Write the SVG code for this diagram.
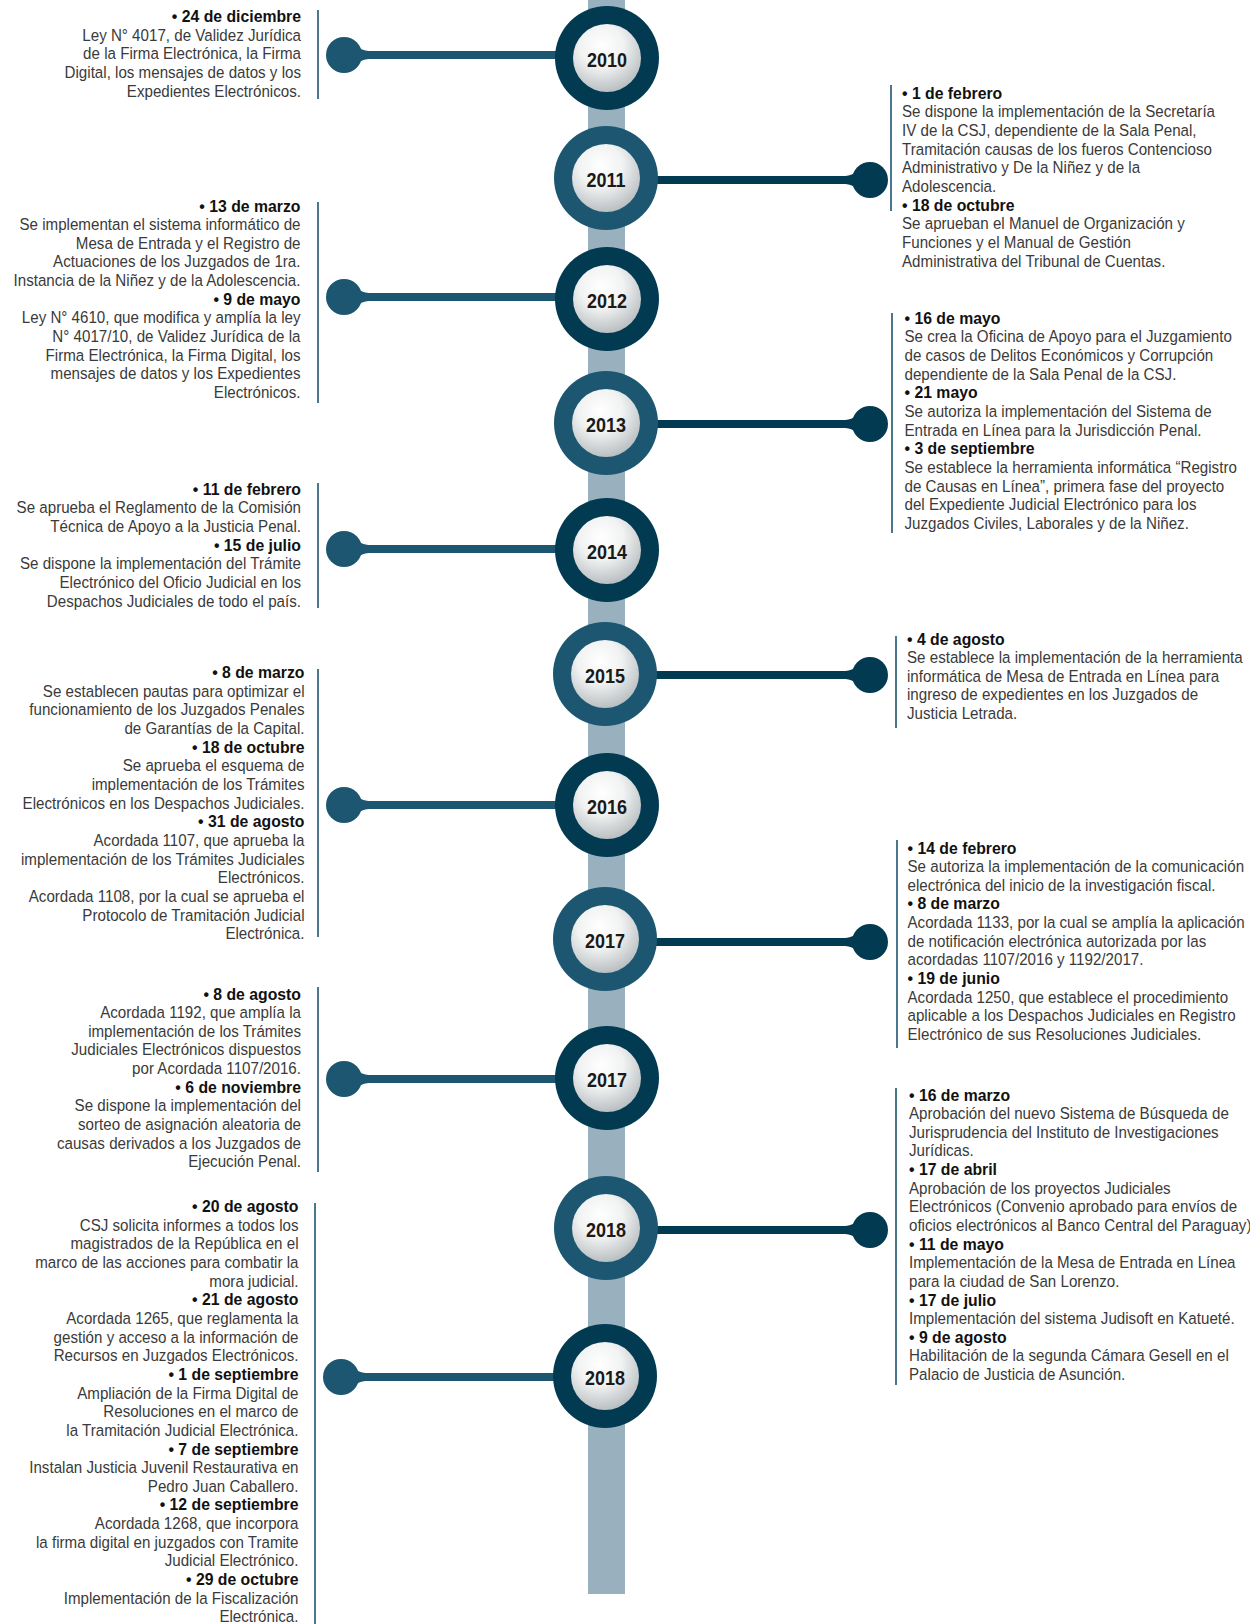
<svg xmlns="http://www.w3.org/2000/svg" xmlns:xlink="http://www.w3.org/1999/xlink" width="1250" height="1624" viewBox="0 0 1250 1624">
<style>
.t{font-family:"Liberation Sans",Arial,sans-serif;font-size:16.5px;fill:#3a3a3a}
.b{font-weight:bold;font-size:17.2px;fill:#111}
.e{text-anchor:end}
.yr{font-family:"Liberation Sans",Arial,sans-serif;font-weight:bold;font-size:19.6px;fill:#1a1a1a;text-anchor:middle}
.dk{fill:#023a51}
.tl{fill:#1c5670}
.vl{stroke:#1e5670;stroke-width:1.6}
.cl{stroke-width:8}
</style>
<defs>
<radialGradient id="disc" cx="0.42" cy="0.32" r="0.72">
<stop offset="0" stop-color="#ffffff"/>
<stop offset="0.45" stop-color="#f1f2f2"/>
<stop offset="1" stop-color="#b4babd"/>
</radialGradient>
<g id="knobL"><circle r="18"/><path d="M9,-15.5 C14,-6 18,-4 28,-4 L28,4 C18,4 14,6 9,15.5 Z"/></g>
<g id="knobR"><circle r="18"/><path d="M-9,-15.5 C-14,-6 -18,-4 -28,-4 L-28,4 C-18,4 -14,6 -9,15.5 Z"/></g>
</defs>
<rect x="0" y="0" width="1250" height="1624" fill="#ffffff"/>
<rect id="bar" x="588" y="0" width="37" height="1594" fill="#99b1be"/>

<g id="connectors">
<line class="cl" x1="350" y1="55" x2="580" y2="55" stroke="#1c5670"/><use xlink:href="#knobL" x="344" y="55" fill="#1c5670"/>
<line class="cl" x1="630" y1="180" x2="865" y2="180" stroke="#023a51"/><use xlink:href="#knobR" x="870" y="180" fill="#023a51"/>
<line class="cl" x1="350" y1="297" x2="580" y2="297" stroke="#1c5670"/><use xlink:href="#knobL" x="344" y="297" fill="#1c5670"/>
<line class="cl" x1="630" y1="424" x2="865" y2="424" stroke="#023a51"/><use xlink:href="#knobR" x="870" y="424" fill="#023a51"/>
<line class="cl" x1="350" y1="549" x2="580" y2="549" stroke="#1c5670"/><use xlink:href="#knobL" x="344" y="549" fill="#1c5670"/>
<line class="cl" x1="630" y1="675" x2="865" y2="675" stroke="#023a51"/><use xlink:href="#knobR" x="870" y="675" fill="#023a51"/>
<line class="cl" x1="350" y1="805" x2="580" y2="805" stroke="#1c5670"/><use xlink:href="#knobL" x="344" y="805" fill="#1c5670"/>
<line class="cl" x1="630" y1="942" x2="865" y2="942" stroke="#023a51"/><use xlink:href="#knobR" x="870" y="942" fill="#023a51"/>
<line class="cl" x1="350" y1="1079" x2="580" y2="1079" stroke="#1c5670"/><use xlink:href="#knobL" x="344" y="1079" fill="#1c5670"/>
<line class="cl" x1="630" y1="1230" x2="865" y2="1230" stroke="#023a51"/><use xlink:href="#knobR" x="870" y="1230" fill="#023a51"/>
<line class="cl" x1="347" y1="1377" x2="580" y2="1377" stroke="#1c5670"/><use xlink:href="#knobL" x="341" y="1377" fill="#1c5670"/>
</g>

<g id="y2010"><circle class="dk" cx="607" cy="58" r="52"/><circle cx="607" cy="58" r="34" fill="url(#disc)"/><text class="yr" transform="translate(607,67) scale(0.918,1)">2010</text></g>
<g id="y2011"><circle class="tl" cx="606" cy="178" r="52"/><circle cx="606" cy="178" r="34" fill="url(#disc)"/><text class="yr" transform="translate(606,187) scale(0.918,1)">2011</text></g>
<g id="y2012"><circle class="dk" cx="607" cy="299" r="52"/><circle cx="607" cy="299" r="34" fill="url(#disc)"/><text class="yr" transform="translate(607,308) scale(0.918,1)">2012</text></g>
<g id="y2013"><circle class="tl" cx="606" cy="423" r="52"/><circle cx="606" cy="423" r="34" fill="url(#disc)"/><text class="yr" transform="translate(606,432) scale(0.918,1)">2013</text></g>
<g id="y2014"><circle class="dk" cx="607" cy="550" r="52"/><circle cx="607" cy="550" r="34" fill="url(#disc)"/><text class="yr" transform="translate(607,559) scale(0.918,1)">2014</text></g>
<g id="y2015"><circle class="tl" cx="605" cy="674" r="52"/><circle cx="605" cy="674" r="34" fill="url(#disc)"/><text class="yr" transform="translate(605,683) scale(0.918,1)">2015</text></g>
<g id="y2016"><circle class="dk" cx="607" cy="805" r="52"/><circle cx="607" cy="805" r="34" fill="url(#disc)"/><text class="yr" transform="translate(607,814) scale(0.918,1)">2016</text></g>
<g id="y2017a"><circle class="tl" cx="605" cy="939" r="52"/><circle cx="605" cy="939" r="34" fill="url(#disc)"/><text class="yr" transform="translate(605,948) scale(0.918,1)">2017</text></g>
<g id="y2017b"><circle class="dk" cx="607" cy="1078" r="52"/><circle cx="607" cy="1078" r="34" fill="url(#disc)"/><text class="yr" transform="translate(607,1087) scale(0.918,1)">2017</text></g>
<g id="y2018a"><circle class="tl" cx="606" cy="1228" r="52"/><circle cx="606" cy="1228" r="34" fill="url(#disc)"/><text class="yr" transform="translate(606,1237) scale(0.918,1)">2018</text></g>
<g id="y2018b"><circle class="dk" cx="605" cy="1376" r="52"/><circle cx="605" cy="1376" r="34" fill="url(#disc)"/><text class="yr" transform="translate(605,1385) scale(0.918,1)">2018</text></g>

<g id="note2010"><line class="vl" x1="318" y1="10" x2="318" y2="99"/>
<text class="t e" transform="translate(301,22.2) scale(0.918,1)"><tspan class="b" x="0" y="0">• 24 de diciembre</tspan><tspan x="0" dy="18.64">Ley N° 4017, de Validez Jurídica</tspan><tspan x="0" dy="18.64">de la Firma Electrónica, la Firma</tspan><tspan x="0" dy="18.64">Digital, los mensajes de datos y los</tspan><tspan x="0" dy="18.64">Expedientes Electrónicos.</tspan></text></g>

<g id="note2011"><line class="vl" x1="891" y1="85" x2="891" y2="211"/>
<text class="t" transform="translate(902,98.8) scale(0.918,1)"><tspan class="b" x="0" y="0">• 1 de febrero</tspan><tspan x="0" dy="18.64">Se dispone la implementación de la Secretaría</tspan><tspan x="0" dy="18.64">IV de la CSJ, dependiente de la Sala Penal,</tspan><tspan x="0" dy="18.64">Tramitación causas de los fueros Contencioso</tspan><tspan x="0" dy="18.64">Administrativo y De la Niñez y de la</tspan><tspan x="0" dy="18.64">Adolescencia.</tspan><tspan class="b" x="0" dy="18.64">• 18 de octubre</tspan><tspan x="0" dy="18.64">Se aprueban el Manuel de Organización y</tspan><tspan x="0" dy="18.64">Funciones y el Manual de Gestión</tspan><tspan x="0" dy="18.64">Administrativa del Tribunal de Cuentas.</tspan></text></g>

<g id="note2012"><line class="vl" x1="318" y1="202" x2="318" y2="403"/>
<text class="t e" transform="translate(300.5,211.5) scale(0.918,1)"><tspan class="b" x="0" y="0">• 13 de marzo</tspan><tspan x="0" dy="18.64">Se implementan el sistema informático de</tspan><tspan x="0" dy="18.64">Mesa de Entrada y el Registro de</tspan><tspan x="0" dy="18.64">Actuaciones de los Juzgados de 1ra.</tspan><tspan x="0" dy="18.64">Instancia de la Niñez y de la Adolescencia.</tspan><tspan class="b" x="0" dy="18.64">• 9 de mayo</tspan><tspan x="0" dy="18.64">Ley N° 4610, que modifica y amplía la ley</tspan><tspan x="0" dy="18.64">N° 4017/10, de Validez Jurídica de la</tspan><tspan x="0" dy="18.64">Firma Electrónica, la Firma Digital, los</tspan><tspan x="0" dy="18.64">mensajes de datos y los Expedientes</tspan><tspan x="0" dy="18.64">Electrónicos.</tspan></text></g>

<g id="note2013"><line class="vl" x1="892" y1="313" x2="892" y2="533"/>
<text class="t" transform="translate(904.5,323.8) scale(0.918,1)"><tspan class="b" x="0" y="0">• 16 de mayo</tspan><tspan x="0" dy="18.64">Se crea la Oficina de Apoyo para el Juzgamiento</tspan><tspan x="0" dy="18.64">de casos de Delitos Económicos y Corrupción</tspan><tspan x="0" dy="18.64">dependiente de la Sala Penal de la CSJ.</tspan><tspan class="b" x="0" dy="18.64">• 21 mayo</tspan><tspan x="0" dy="18.64">Se autoriza la implementación del Sistema de</tspan><tspan x="0" dy="18.64">Entrada en Línea para la Jurisdicción Penal.</tspan><tspan class="b" x="0" dy="18.64">• 3 de septiembre</tspan><tspan x="0" dy="18.64">Se establece la herramienta informática “Registro</tspan><tspan x="0" dy="18.64">de Causas en Línea”, primera fase del proyecto</tspan><tspan x="0" dy="18.64">del Expediente Judicial Electrónico para los</tspan><tspan x="0" dy="18.64">Juzgados Civiles, Laborales y de la Niñez.</tspan></text></g>

<g id="note2014"><line class="vl" x1="318" y1="483" x2="318" y2="608"/>
<text class="t e" transform="translate(301,494.8) scale(0.918,1)"><tspan class="b" x="0" y="0">• 11 de febrero</tspan><tspan x="0" dy="18.64">Se aprueba el Reglamento de la Comisión</tspan><tspan x="0" dy="18.64">Técnica de Apoyo a la Justicia Penal.</tspan><tspan class="b" x="0" dy="18.64">• 15 de julio</tspan><tspan x="0" dy="18.64">Se dispone la implementación del Trámite</tspan><tspan x="0" dy="18.64">Electrónico del Oficio Judicial en los</tspan><tspan x="0" dy="18.64">Despachos Judiciales de todo el país.</tspan></text></g>

<g id="note2015"><line class="vl" x1="896" y1="636" x2="896" y2="728"/>
<text class="t" transform="translate(907,644.5) scale(0.918,1)"><tspan class="b" x="0" y="0">• 4 de agosto</tspan><tspan x="0" dy="18.64">Se establece la implementación de la herramienta</tspan><tspan x="0" dy="18.64">informática de Mesa de Entrada en Línea para</tspan><tspan x="0" dy="18.64">ingreso de expedientes en los Juzgados de</tspan><tspan x="0" dy="18.64">Justicia Letrada.</tspan></text></g>

<g id="note2016"><line class="vl" x1="318" y1="669" x2="318" y2="937"/>
<text class="t e" transform="translate(304.5,678.2) scale(0.918,1)"><tspan class="b" x="0" y="0">• 8 de marzo</tspan><tspan x="0" dy="18.64">Se establecen pautas para optimizar el</tspan><tspan x="0" dy="18.64">funcionamiento de los Juzgados Penales</tspan><tspan x="0" dy="18.64">de Garantías de la Capital.</tspan><tspan class="b" x="0" dy="18.64">• 18 de octubre</tspan><tspan x="0" dy="18.64">Se aprueba el esquema de</tspan><tspan x="0" dy="18.64">implementación de los Trámites</tspan><tspan x="0" dy="18.64">Electrónicos en los Despachos Judiciales.</tspan><tspan class="b" x="0" dy="18.64">• 31 de agosto</tspan><tspan x="0" dy="18.64">Acordada 1107, que aprueba la</tspan><tspan x="0" dy="18.64">implementación de los Trámites Judiciales</tspan><tspan x="0" dy="18.64">Electrónicos.</tspan><tspan x="0" dy="18.64">Acordada 1108, por la cual se aprueba el</tspan><tspan x="0" dy="18.64">Protocolo de Tramitación Judicial</tspan><tspan x="0" dy="18.64">Electrónica.</tspan></text></g>

<g id="note2017a"><line class="vl" x1="897" y1="840" x2="897" y2="1048"/>
<text class="t" transform="translate(907.5,853.5) scale(0.918,1)"><tspan class="b" x="0" y="0">• 14 de febrero</tspan><tspan x="0" dy="18.64">Se autoriza la implementación de la comunicación</tspan><tspan x="0" dy="18.64">electrónica del inicio de la investigación fiscal.</tspan><tspan class="b" x="0" dy="18.64">• 8 de marzo</tspan><tspan x="0" dy="18.64">Acordada 1133, por la cual se amplía la aplicación</tspan><tspan x="0" dy="18.64">de notificación electrónica autorizada por las</tspan><tspan x="0" dy="18.64">acordadas 1107/2016 y 1192/2017.</tspan><tspan class="b" x="0" dy="18.64">• 19 de junio</tspan><tspan x="0" dy="18.64">Acordada 1250, que establece el procedimiento</tspan><tspan x="0" dy="18.64">aplicable a los Despachos Judiciales en Registro</tspan><tspan x="0" dy="18.64">Electrónico de sus Resoluciones Judiciales.</tspan></text></g>

<g id="note2017b"><line class="vl" x1="318" y1="987" x2="318" y2="1172"/>
<text class="t e" transform="translate(301,999.5) scale(0.918,1)"><tspan class="b" x="0" y="0">• 8 de agosto</tspan><tspan x="0" dy="18.64">Acordada 1192, que amplía la</tspan><tspan x="0" dy="18.64">implementación de los Trámites</tspan><tspan x="0" dy="18.64">Judiciales Electrónicos dispuestos</tspan><tspan x="0" dy="18.64">por Acordada 1107/2016.</tspan><tspan class="b" x="0" dy="18.64">• 6 de noviembre</tspan><tspan x="0" dy="18.64">Se dispone la implementación del</tspan><tspan x="0" dy="18.64">sorteo de asignación aleatoria de</tspan><tspan x="0" dy="18.64">causas derivados a los Juzgados de</tspan><tspan x="0" dy="18.64">Ejecución Penal.</tspan></text></g>

<g id="note2018a"><line class="vl" x1="896" y1="1088" x2="896" y2="1385"/>
<text class="t" transform="translate(909,1100.5) scale(0.918,1)"><tspan class="b" x="0" y="0">• 16 de marzo</tspan><tspan x="0" dy="18.64">Aprobación del nuevo Sistema de Búsqueda de</tspan><tspan x="0" dy="18.64">Jurisprudencia del Instituto de Investigaciones</tspan><tspan x="0" dy="18.64">Jurídicas.</tspan><tspan class="b" x="0" dy="18.64">• 17 de abril</tspan><tspan x="0" dy="18.64">Aprobación de los proyectos Judiciales</tspan><tspan x="0" dy="18.64">Electrónicos (Convenio aprobado para envíos de</tspan><tspan x="0" dy="18.64">oficios electrónicos al Banco Central del Paraguay)</tspan><tspan class="b" x="0" dy="18.64">• 11 de mayo</tspan><tspan x="0" dy="18.64">Implementación de la Mesa de Entrada en Línea</tspan><tspan x="0" dy="18.64">para la ciudad de San Lorenzo.</tspan><tspan class="b" x="0" dy="18.64">• 17 de julio</tspan><tspan x="0" dy="18.64">Implementación del sistema Judisoft en Katueté.</tspan><tspan class="b" x="0" dy="18.64">• 9 de agosto</tspan><tspan x="0" dy="18.64">Habilitación de la segunda Cámara Gesell en el</tspan><tspan x="0" dy="18.64">Palacio de Justicia de Asunción.</tspan></text></g>

<g id="note2018b"><line class="vl" x1="315" y1="1203" x2="315" y2="1624"/>
<text class="t e" transform="translate(298.5,1212.2) scale(0.918,1)"><tspan class="b" x="0" y="0">• 20 de agosto</tspan><tspan x="0" dy="18.64">CSJ solicita informes a todos los</tspan><tspan x="0" dy="18.64">magistrados de la República en el</tspan><tspan x="0" dy="18.64">marco de las acciones para combatir la</tspan><tspan x="0" dy="18.64">mora judicial.</tspan><tspan class="b" x="0" dy="18.64">• 21 de agosto</tspan><tspan x="0" dy="18.64">Acordada 1265, que reglamenta la</tspan><tspan x="0" dy="18.64">gestión y acceso a la información de</tspan><tspan x="0" dy="18.64">Recursos en Juzgados Electrónicos.</tspan><tspan class="b" x="0" dy="18.64">• 1 de septiembre</tspan><tspan x="0" dy="18.64">Ampliación de la Firma Digital de</tspan><tspan x="0" dy="18.64">Resoluciones en el marco de</tspan><tspan x="0" dy="18.64">la Tramitación Judicial Electrónica.</tspan><tspan class="b" x="0" dy="18.64">• 7 de septiembre</tspan><tspan x="0" dy="18.64">Instalan Justicia Juvenil Restaurativa en</tspan><tspan x="0" dy="18.64">Pedro Juan Caballero.</tspan><tspan class="b" x="0" dy="18.64">• 12 de septiembre</tspan><tspan x="0" dy="18.64">Acordada 1268, que incorpora</tspan><tspan x="0" dy="18.64">la firma digital en juzgados con Tramite</tspan><tspan x="0" dy="18.64">Judicial Electrónico.</tspan><tspan class="b" x="0" dy="18.64">• 29 de octubre</tspan><tspan x="0" dy="18.64">Implementación de la Fiscalización</tspan><tspan x="0" dy="18.64">Electrónica.</tspan></text></g>
</svg>
